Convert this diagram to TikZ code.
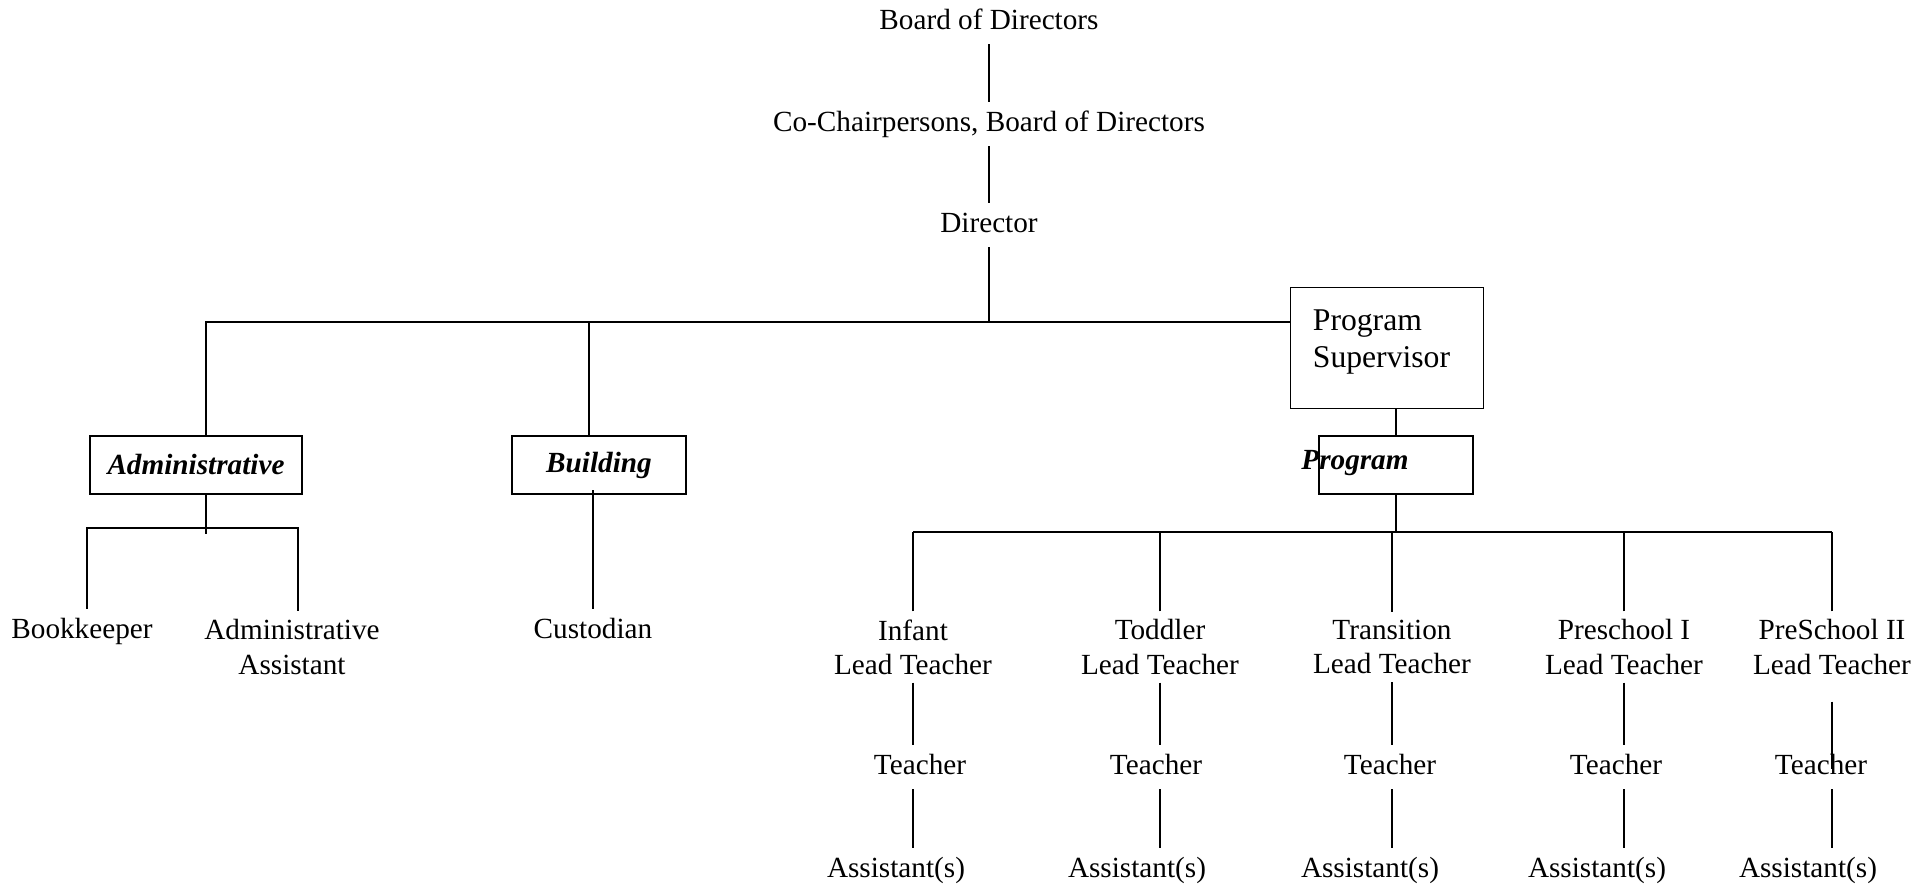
\documentclass[tikz,border=0pt]{standalone}
\usepackage{fontspec}
\setmainfont{Liberation Serif}
\usetikzlibrary{calc}

\begin{document}
\begin{tikzpicture}[x=0.4106pt, y=-0.4106pt, line width=0.75pt,
  every node/.style={font=\fontsize{12}{14}\selectfont, inner sep=3pt},
  post/.style={text height=9pt, text depth=2.5pt},
  two/.style={align=center},
  unit/.style={draw, minimum height=23.8pt, font=\fontsize{12}{14}\selectfont\bfseries\itshape}]
  \useasboundingbox (0,0) rectangle (1929,885);

  \node[post] (bod) at (989,22) {Board of Directors};
  \node[post] (chair) at (989,124) {Co-Chairpersons, Board of Directors};
  \node[post] (dir) at (989,225) {Director};
  \coordinate (hub) at (989,322);
  \path (bod) edge (chair) (chair) edge (dir) (dir) edge (hub);

  \node[unit, minimum width=87pt] (adm) at (196,465) {Administrative};
  \node[unit, minimum width=71.4pt] (bld) at (599,465) {Building};
  \node[draw, minimum width=79.2pt, minimum height=49.7pt] (supbox) at (1387,348) {};
  \node[anchor=west, inner sep=0pt, align=left, font=\fontsize{13}{15.2}\selectfont] (sup) at (1312,342) {Program\\Supervisor};
  \node[draw, minimum width=63.2pt, minimum height=23.8pt] (progbox) at (1396,465) {};
  \node[unit, draw=none] (prog) at (1355,463) {Program};

  \draw ([xshift=4.1pt]adm.north) |- (supbox.west |- hub);
  \draw ([xshift=-4.1pt]bld.north) -- ([xshift=-4.1pt]bld.north |- hub);
  \draw (progbox.north) -- (progbox.north |- supbox.south);
  \coordinate (pbus) at (1396,532);
  \draw (progbox) -- (pbus);

  \node[post] (bk) at (82,631) {Bookkeeper};
  \node[two] (aa) at (292,647) {Administrative\\Assistant};
  \coordinate (afork) at (206,528);
  \draw ([xshift=4.1pt]adm.south) -- ++(0,39);
  \draw ([xshift=2pt]bk.north) |- (afork) -| ([xshift=2.5pt]aa.north);

  \node[post] (cust) at (593,631) {Custodian};
  \draw (cust) -- ([yshift=2pt]bld.south -| cust);

  \node[two] (l1) at (913,647) {Infant\\Lead Teacher};
  \node[two] (l2) at (1160,647) {Toddler\\Lead Teacher};
  \node[two] (l3) at (1392,647) {Transition\\Lead Teacher};
  \node[two] (l4) at (1624,647) {Preschool I\\Lead Teacher};
  \node[two] (l5) at (1832,647) {PreSchool II\\Lead Teacher};
  \draw (l1 |- pbus) -- (l5 |- pbus);
  \path (l1) edge (l1 |- pbus) (l2) edge (l2 |- pbus) (l3) edge (l3 |- pbus)
        (l4) edge (l4 |- pbus) (l5) edge (l5 |- pbus);

  \node[post] (t1) at (920,767) {Teacher};
  \node[post] (t2) at (1156,767) {Teacher};
  \node[post] (t3) at (1390,767) {Teacher};
  \node[post] (t4) at (1616,767) {Teacher};
  \node[post] (t5) at (1821,767) {Teacher};
  \node[post] (a1) at (896,870) {Assistant(s)};
  \node[post] (a2) at (1137,870) {Assistant(s)};
  \node[post] (a3) at (1370,870) {Assistant(s)};
  \node[post] (a4) at (1597,870) {Assistant(s)};
  \node[post] (a5) at (1808,870) {Assistant(s)};

  \draw (l1) -- (l1 |- t1.north);
  \draw (l2) -- (l2 |- t2.north);
  \draw (l3) -- (l3 |- t3.north);
  \draw (l4) -- (l4 |- t4.north);
  \draw ([yshift=-7.8pt]l5.south) -- ([yshift=-10pt]l5 |- t5.north);
  \draw (l1 |- t1.south) -- (l1 |- a1.north);
  \draw (l2 |- t2.south) -- (l2 |- a2.north);
  \draw (l3 |- t3.south) -- (l3 |- a3.north);
  \draw (l4 |- t4.south) -- (l4 |- a4.north);
  \draw (l5 |- t5.south) -- (l5 |- a5.north);
\end{tikzpicture}
\end{document}
